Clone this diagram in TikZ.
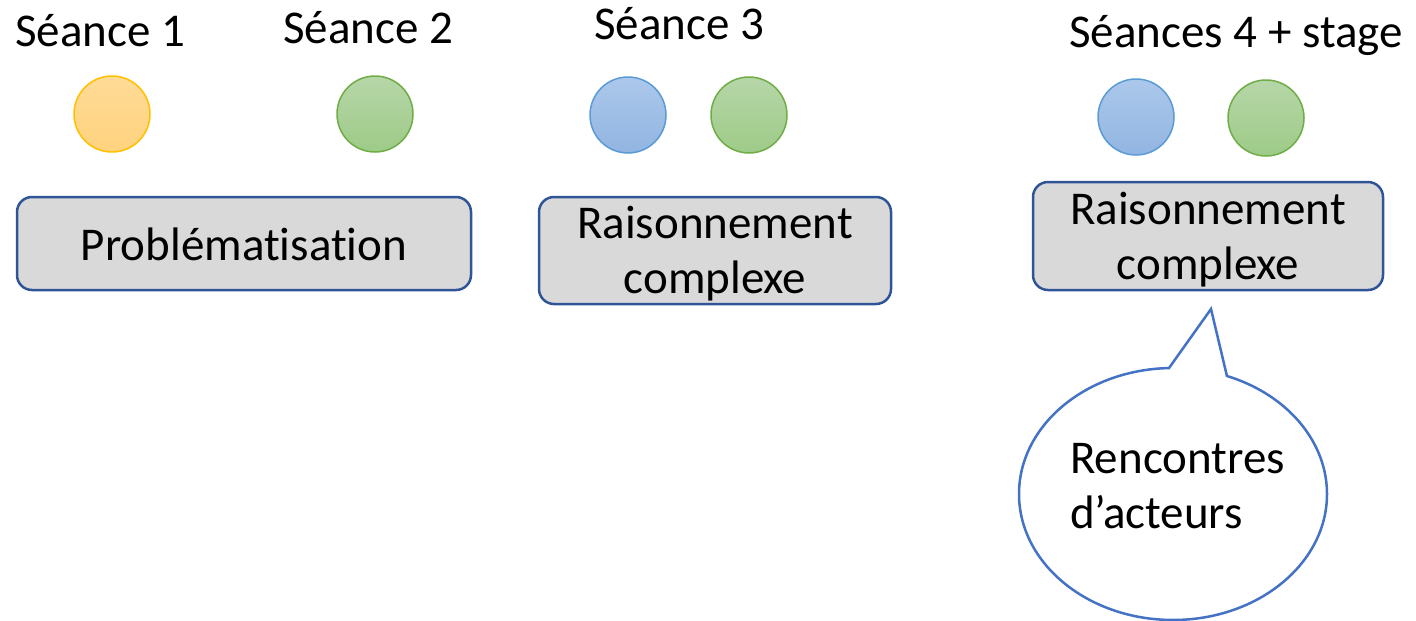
\documentclass[tikz,border=0pt]{standalone}
\usepackage{fontspec}
\setmainfont{Carlito}[RawFeature={-liga;-calt;-dlig;-clig}]
\definecolor{boxfill}{HTML}{D9D9D9}
\definecolor{boxline}{HTML}{2F5597}
\definecolor{calline}{HTML}{4472C4}
\definecolor{orline}{HTML}{FFC000}
\definecolor{ortop}{RGB}{255,219,152}
\definecolor{orbot}{RGB}{255,210,125}
\definecolor{grline}{HTML}{70AD47}
\definecolor{grtop}{RGB}{182,214,168}
\definecolor{grbot}{RGB}{158,203,136}
\definecolor{blline}{HTML}{5B9BD5}
\definecolor{bltop}{RGB}{172,200,235}
\definecolor{blbot}{RGB}{145,181,225}
\begin{document}
\begin{tikzpicture}[x=1pt,y=1pt,
  every node/.style={font=\fontsize{47}{55}\selectfont, inner sep=0pt},
  lbl/.style={anchor=base west},
  dot/.style={circle, minimum size=76pt, line width=1.5pt},
  orangedot/.style={dot, draw=orline, top color=ortop, bottom color=orbot},
  greendot/.style={dot, draw=grline, top color=grtop, bottom color=grbot},
  bluedot/.style={dot, draw=blline, top color=bltop, bottom color=blbot},
  phase/.style={draw=boxline, fill=boxfill, line width=2.5pt, rounded corners=15pt, align=center},
  bubble/.style={draw=calline, fill=white, line width=2.5pt}
]
\useasboundingbox (0,0) rectangle (1416,-621);

% session labels
\node[lbl] (s1) at (15,-46) {Séance 1};
\node[lbl] (s2) at (283,-43) {Séance 2};
\node[lbl] (s3) at (594,-39) {Séance 3};
\node[lbl] (s4) at (1069,-47) {Séances 4 + stage};

% dots
\node[orangedot] (d1) at (112,-114) {};
\node[greendot]  (d2) at (375,-114) {};
\node[bluedot]   (d3) at (628,-115) {};
\node[greendot]  (d4) at (749,-115) {};
\node[bluedot]   (d5) at (1136,-117) {};
\node[greendot]  (d6) at (1266,-118) {};

% phase boxes
\node[phase, minimum width=454pt, minimum height=93pt] (b1) at (244,-243.5)
  {\rule[-10pt]{0pt}{53pt}Problémat\kern0pt isation};
\node[phase, minimum width=352pt, minimum height=107pt] (b2) at (715,-250.5)
  {\rule{0pt}{41pt}Raisonnement\\complexe\rule[-10pt]{0pt}{10pt}};
\node[phase, minimum width=350pt, minimum height=108pt] (b3) at (1208,-236)
  {\rule{0pt}{41pt}Raisonnement\\complexe\rule[-10pt]{0pt}{10pt}};

% speech bubble
\coordinate (ec) at (1173,-494);
\coordinate (tip) at (1211,-309);
\draw[bubble] (ec) ++(91.5:154 and 126)
  arc[start angle=91.5, end angle=429.5, x radius=154, y radius=126]
  -- (tip) -- cycle;
\node[anchor=north west, align=left] (rc) at (1070,-433)
  {\rule{0pt}{40pt}Rencontres\\d’acteurs};
\end{tikzpicture}
\end{document}
